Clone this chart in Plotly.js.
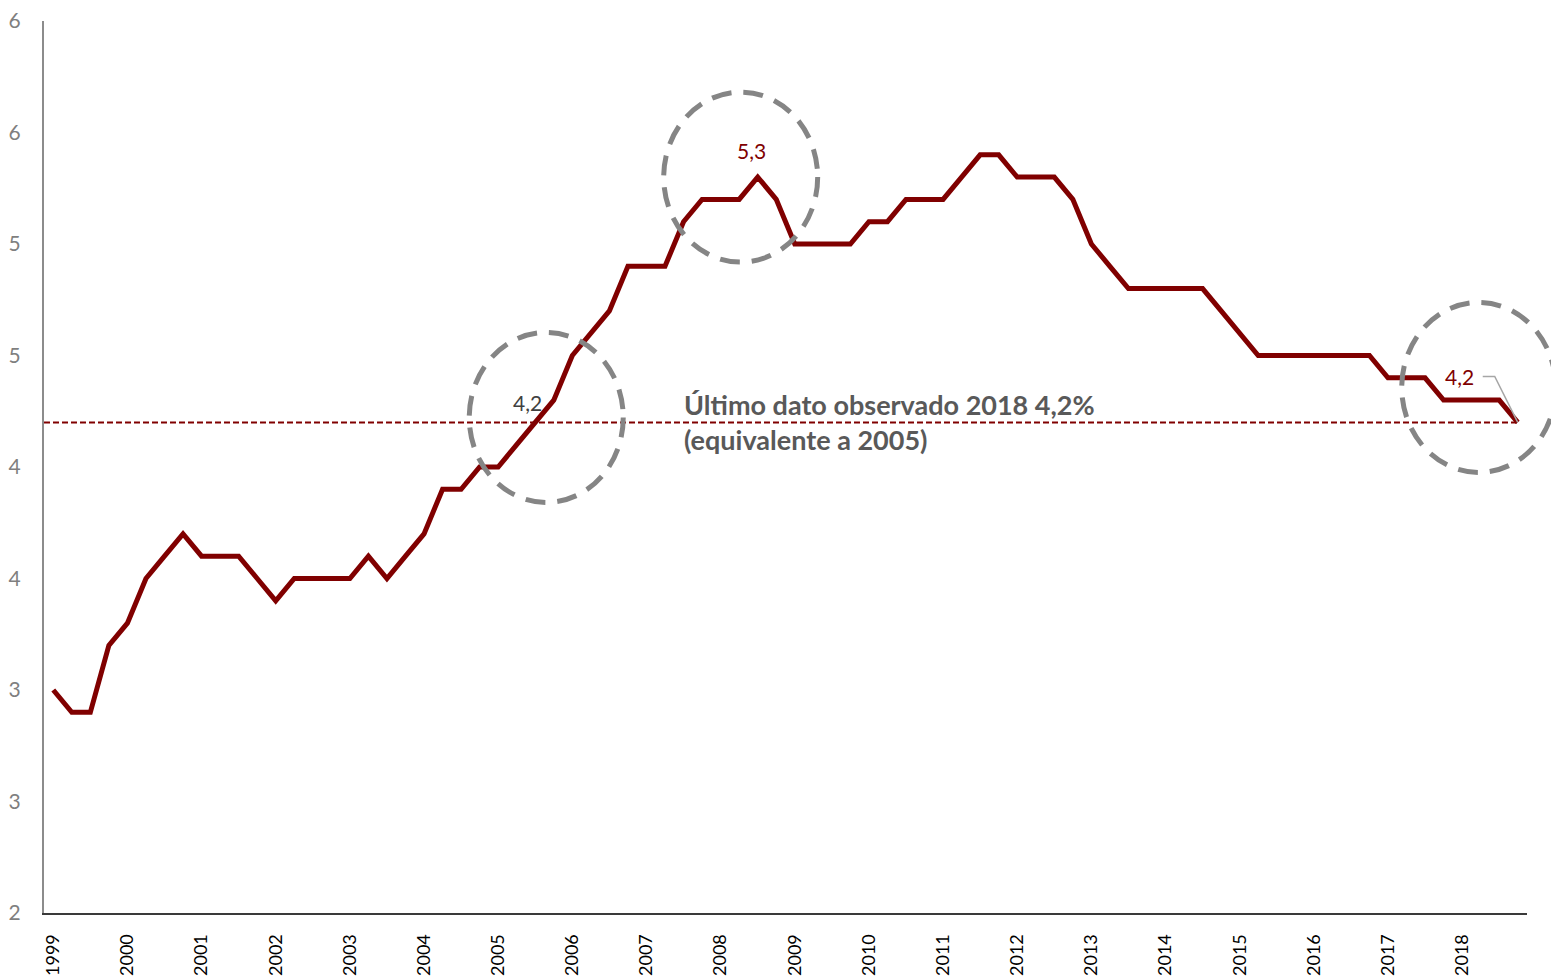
<!DOCTYPE html>
<html>
<head>
<meta charset="utf-8">
<script src="https://cdn.plot.ly/plotly-3.0.1.min.js"></script>
<style>
  html, body { margin: 0; padding: 0; background: #ffffff; }
  #chart { width: 1551px; height: 978px; }
</style>
</head>
<body>
<div id="chart"></div>
<script>
// ---- Data (quarterly, 1999 T1 – 2018 T4) ----
const years = [1999, 2000, 2001, 2002, 2003, 2004, 2005, 2006, 2007, 2008,
               2009, 2010, 2011, 2012, 2013, 2014, 2015, 2016, 2017, 2018];
const quarters = ['T1', 'T2', 'T3', 'T4'];
const rate = [
  3.0, 2.9, 2.9, 3.2, 3.3, 3.5, 3.6, 3.7, 3.6, 3.6,
  3.6, 3.5, 3.4, 3.5, 3.5, 3.5, 3.5, 3.6, 3.5, 3.6,
  3.7, 3.9, 3.9, 4.0, 4.0, 4.1, 4.2, 4.3, 4.5, 4.6,
  4.7, 4.9, 4.9, 4.9, 5.1, 5.2, 5.2, 5.2, 5.3, 5.2,
  5.0, 5.0, 5.0, 5.0, 5.1, 5.1, 5.2, 5.2, 5.2, 5.3,
  5.4, 5.4, 5.3, 5.3, 5.3, 5.2, 5.0, 4.9, 4.8, 4.8,
  4.8, 4.8, 4.8, 4.7, 4.6, 4.5, 4.5, 4.5, 4.5, 4.5,
  4.5, 4.5, 4.4, 4.4, 4.4, 4.3, 4.3, 4.3, 4.3, 4.2
];
const yTickVals = [2, 2.5, 3, 3.5, 4, 4.5, 5, 5.5, 6];
const yTickText = ['2', '3', '3', '4', '4', '5', '5', '6', '6'];
const highlightIdx = [26, 38, 79];           // points circled in the chart
const noteText = 'Último dato observado 2018 4,2%<br>(equivalente a 2005)';

// ---- Derived ----
const periods = [];
years.forEach(y => quarters.forEach(q => periods.push(y + ' ' + q)));
const xIdx = periods.map((_, i) => i);
const yearTickVals = years.map((_, i) => i * 4);
const lastIdx = rate.length - 1;
const lastVal = rate[lastIdx];
const fmt = v => v.toFixed(1).replace('.', ',');

const X_RANGE = [-0.5, periods.length - 0.5];
const Y_RANGE = [2, 6];
const fx = i => (i - X_RANGE[0]) / (X_RANGE[1] - X_RANGE[0]);
const fy = v => (v - Y_RANGE[0]) / (Y_RANGE[1] - Y_RANGE[0]);

const RED = '#800000';
const GREY = '#858585';
const FONT = 'Lato, "Open Sans", sans-serif';

const trace = {
  x: xIdx,
  y: rate,
  type: 'scatter',
  mode: 'lines',
  line: { color: RED, width: 5, shape: 'linear' },
  hoverinfo: 'x+y',
  text: periods,
  showlegend: false
};

// dashed circles, centred with pixel offsets relative to the highlighted points
const circleOffsets = [
  { dx: 11, dy: 5 },
  { dx: -17, dy: 0 },
  { dx: -39, dy: 35 }
];
const circles = highlightIdx.map((idx, k) => ({
  type: 'circle',
  xref: 'x domain', yref: 'y domain',
  xsizemode: 'pixel', ysizemode: 'pixel',
  xanchor: fx(idx), yanchor: fy(rate[idx]),
  x0: circleOffsets[k].dx - 77, x1: circleOffsets[k].dx + 77,
  y0: circleOffsets[k].dy - 85, y1: circleOffsets[k].dy + 85,
  line: { color: GREY, width: 5, dash: '20px,12px' },
  layer: 'above'
}));

const shapes = [
  {
    type: 'line', xref: 'x', yref: 'y',
    x0: X_RANGE[0], x1: lastIdx, y0: lastVal, y1: lastVal,
    line: { color: RED, width: 2, dash: '6px,3px' },
    layer: 'below'
  },
  {
    type: 'path', xref: 'x', yref: 'y',
    xsizemode: 'pixel', ysizemode: 'pixel',
    xanchor: lastIdx, yanchor: lastVal,
    path: 'M -35 46 L -23 46 L 0 0',
    line: { color: '#a6a6a6', width: 1.5 },
    layer: 'above'
  },
  ...circles
];

const annotations = [
  {
    xref: 'x', yref: 'y', x: highlightIdx[0], y: rate[highlightIdx[0]],
    text: fmt(rate[highlightIdx[0]]), showarrow: false,
    xshift: -8, yshift: 20,
    font: { family: FONT, size: 21, color: '#404040' }
  },
  {
    xref: 'x', yref: 'y', x: highlightIdx[1], y: rate[highlightIdx[1]],
    text: fmt(rate[highlightIdx[1]]), showarrow: false,
    xshift: -6, yshift: 27,
    font: { family: FONT, size: 21, color: RED }
  },
  {
    xref: 'x', yref: 'y', x: lastIdx, y: lastVal,
    text: fmt(lastVal), showarrow: false,
    xshift: -58, yshift: 46,
    font: { family: FONT, size: 21, color: RED }
  },
  {
    xref: 'x', yref: 'y', x: 34, y: lastVal,
    text: '<b>' + noteText.replace('<br>', '</b><br><b>') + '</b>',
    showarrow: false, xanchor: 'left', yanchor: 'middle', align: 'left',
    xshift: -2, yshift: 0,
    font: { family: FONT, size: 27, color: '#595959' }
  }
];

const layout = {
  width: 1551,
  height: 978,
  margin: { l: 44, r: 24, t: 21, b: 65, pad: 0 },
  paper_bgcolor: '#ffffff',
  plot_bgcolor: '#ffffff',
  showlegend: false,
  font: { family: FONT },
  xaxis: {
    type: 'linear',
    range: X_RANGE,
    tickmode: 'array',
    tickvals: yearTickVals,
    ticktext: years.map(String),
    tickangle: -90,
    ticks: 'outside', ticklen: 12, tickcolor: 'rgba(0,0,0,0)',
    showgrid: false, zeroline: false,
    showline: true, linecolor: '#3a3a3a', linewidth: 2,
    tickfont: { family: FONT, size: 18, color: '#000000' },
    automargin: false, fixedrange: true
  },
  yaxis: {
    range: Y_RANGE,
    tickmode: 'array',
    tickvals: yTickVals,
    ticktext: yTickText,
    ticks: 'outside', ticklen: 17, tickcolor: 'rgba(0,0,0,0)',
    showgrid: false, zeroline: false,
    showline: true, linecolor: '#8c8c8c', linewidth: 2,
    tickfont: { family: FONT, size: 21, color: '#7f7f7f' },
    automargin: false, fixedrange: true
  },
  shapes: shapes,
  annotations: annotations
};

Plotly.newPlot('chart', [trace], layout, { displayModeBar: false, staticPlot: true });
</script>
</body>
</html>
